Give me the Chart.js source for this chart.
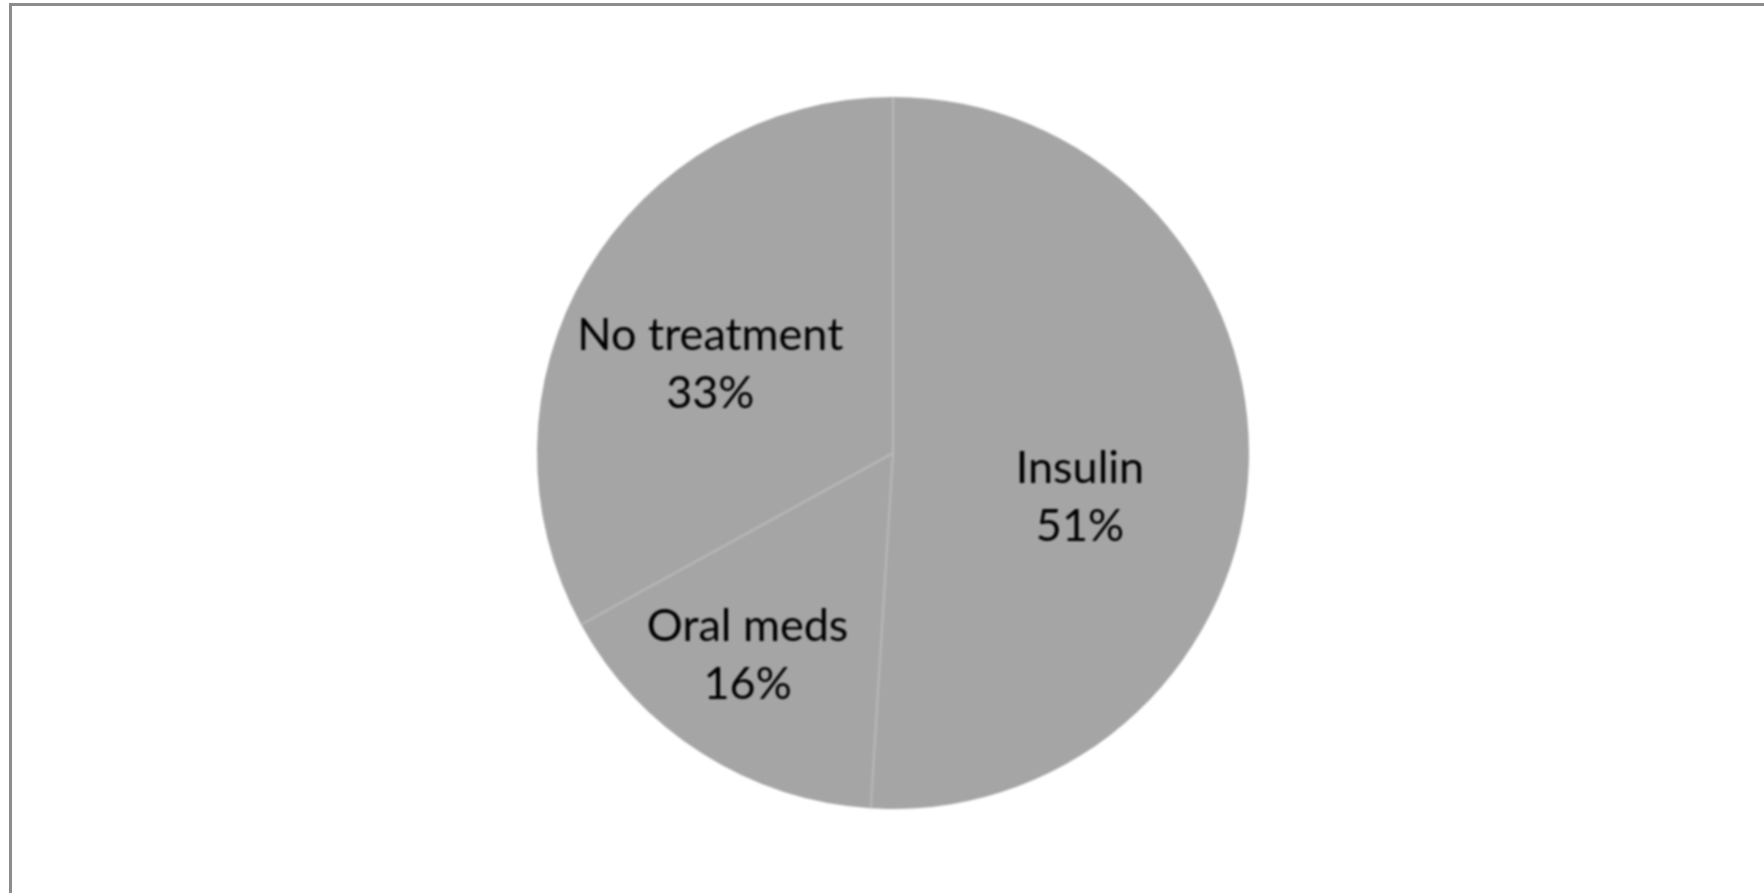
<!DOCTYPE html>
<html>
<head>
<meta charset="utf-8">
<script src="https://cdn.jsdelivr.net/npm/chart.js@4/dist/chart.umd.min.js"></script>
<style>
  html, body { margin: 0; padding: 0; background: #fff; }
  #wrap { position: relative; width: 1764px; height: 893px; overflow: hidden; }
  #frame { position: absolute; left: 9px; top: 3px; width: 1760px; height: 900px;
           border-top: 3px solid #8c8c8c; border-left: 3px solid #8c8c8c; }
  canvas { position: absolute; left: 0; top: 0; filter: blur(0.8px); }
</style>
</head>
<body>
<div id="wrap">
  <div id="frame"></div>
  <canvas id="chart" width="1764" height="893"></canvas>
</div>
<script>
// Share of patients by diabetes treatment
const categories = ['Insulin', 'Oral meds', 'No treatment'];
const shares = [51, 16, 33];
const percentLabels = ['51%', '16%', '33%'];

// Label placement inside each slice: radial fraction and angular nudge (degrees)
const labelPlacement = [
  { r: 0.54, nudge: 11.7 },
  { r: 0.70, nudge: 3.3 },
  { r: 0.57, nudge: -4.8 }
];

const sliceLabels = {
  id: 'sliceLabels',
  afterDatasetsDraw(chart) {
    const ctx = chart.ctx;
    const arcs = chart.getDatasetMeta(0).data;
    // thin light separators between slices
    ctx.save();
    ctx.strokeStyle = '#b9b9b9';
    ctx.lineWidth = 2;
    arcs.forEach(a => {
      ctx.beginPath();
      ctx.moveTo(a.x, a.y);
      ctx.lineTo(a.x + a.outerRadius * Math.cos(a.startAngle), a.y + a.outerRadius * Math.sin(a.startAngle));
      ctx.stroke();
    });
    ctx.restore();

    ctx.save();
    ctx.font = '45px Lato';
    ctx.fillStyle = '#000';
    ctx.textAlign = 'center';
    ctx.textBaseline = 'middle';
    arcs.forEach((a, i) => {
      const p = labelPlacement[i];
      const mid = (a.startAngle + a.endAngle) / 2 + p.nudge * Math.PI / 180;
      const x = a.x + a.outerRadius * p.r * Math.cos(mid);
      const y = a.y + a.outerRadius * p.r * Math.sin(mid);
      ctx.fillText(categories[i], x, y - 29);
      ctx.fillText(percentLabels[i], x, y + 29);
    });
    ctx.restore();
  }
};

new Chart(document.getElementById('chart'), {
  type: 'pie',
  data: {
    labels: categories,
    datasets: [{
      data: shares,
      backgroundColor: '#a5a5a5',
      borderWidth: 0
    }]
  },
  options: {
    responsive: false,
    animation: false,
    layout: { padding: { top: 97, bottom: 84, left: 22, right: 0 } },
    plugins: {
      legend: { display: false },
      tooltip: { enabled: false }
    }
  },
  plugins: [sliceLabels]
});
</script>
</body>
</html>
